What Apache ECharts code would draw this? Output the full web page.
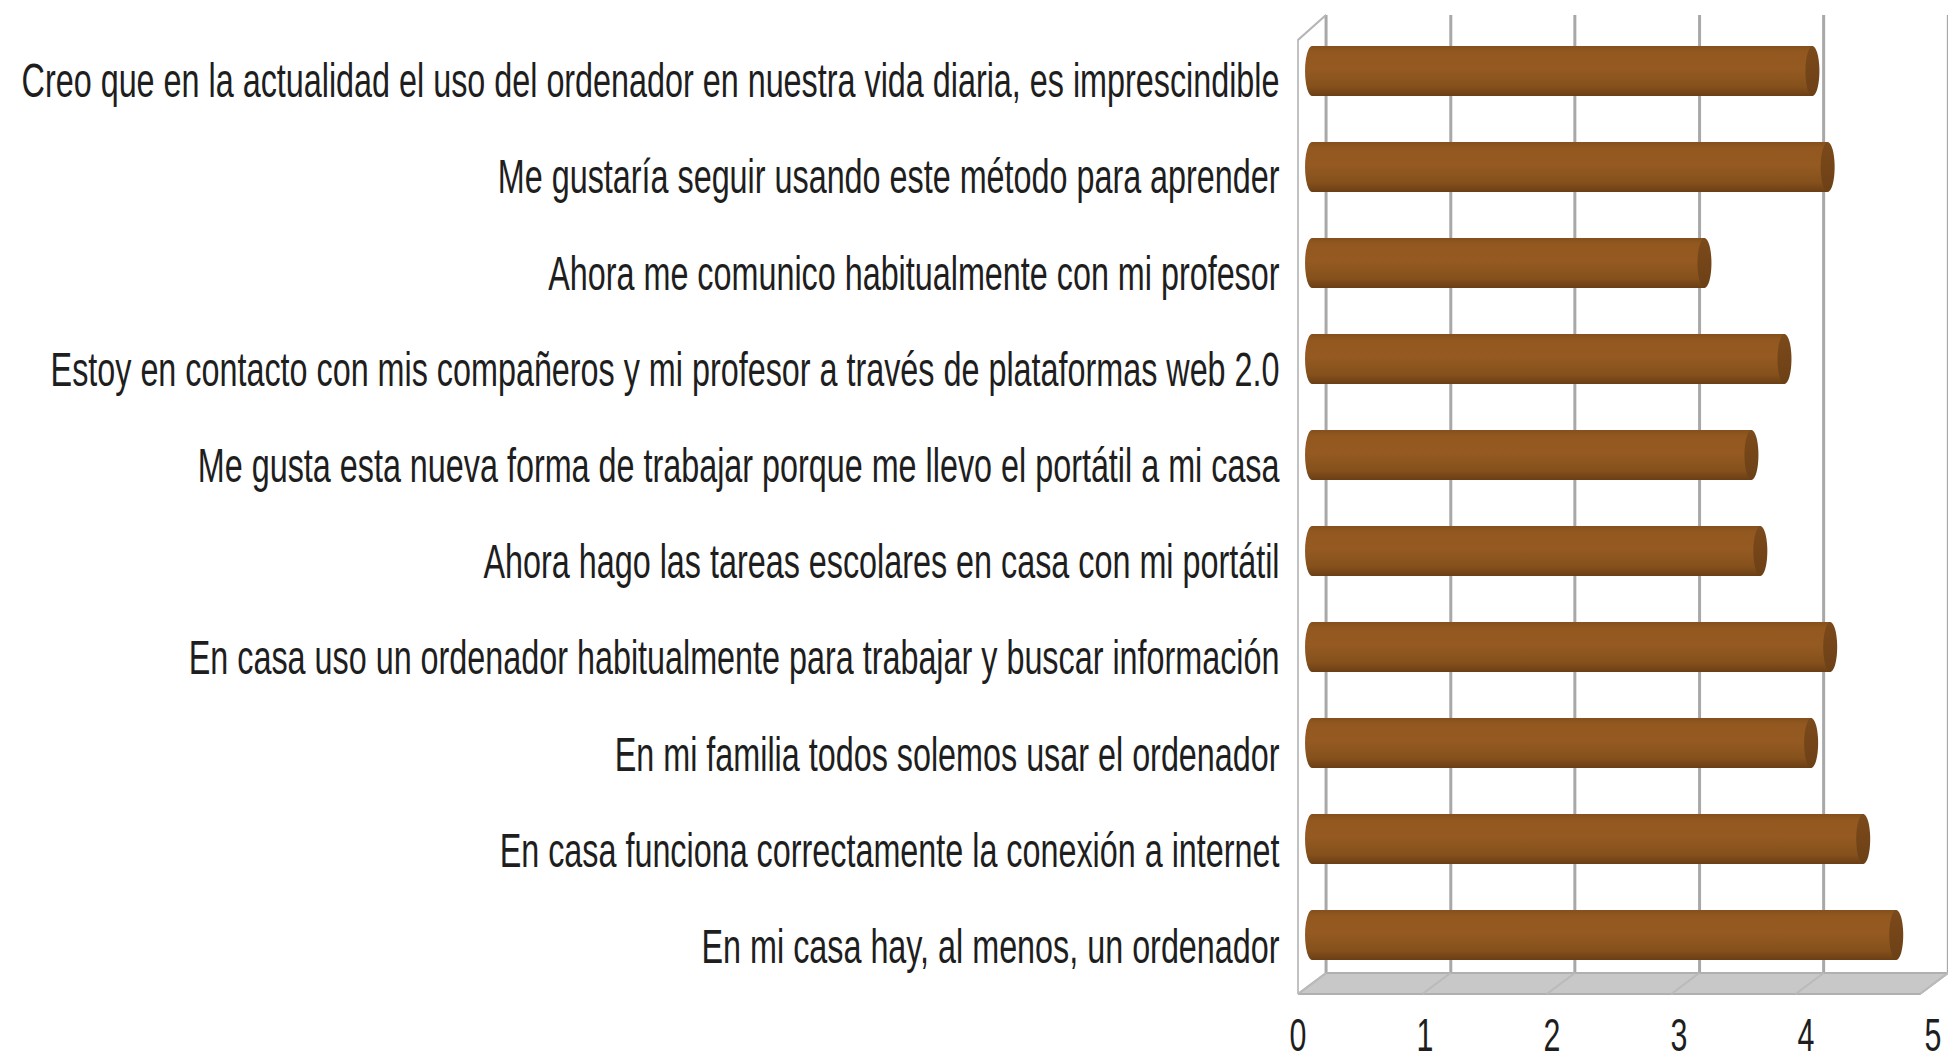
<!DOCTYPE html>
<html>
<head>
<meta charset="utf-8">
<script src="https://cdn.jsdelivr.net/npm/echarts@6/dist/echarts.min.js"></script>
<style>
  html, body { margin: 0; padding: 0; overflow: hidden; background: #fff; }
  /* the whole picture is squeezed sideways, like the original */
  #chart { width: 2952px; height: 1058px; transform: scaleX(0.6599); transform-origin: 0 0; }
</style>
</head>
<body>
<div id="chart"></div>
<script>
// data, top row first
const categories = [
  "Creo que en la actualidad el uso del ordenador en nuestra vida diaria, es imprescindible",
  "Me gustaría seguir usando este método para aprender",
  "Ahora me comunico habitualmente con mi profesor",
  "Estoy en contacto con mis compañeros y mi profesor a través de plataformas web 2.0",
  "Me gusta esta nueva forma de trabajar porque me llevo el portátil a mi casa",
  "Ahora hago las tareas escolares en casa con mi portátil",
  "En casa uso un ordenador habitualmente para trabajar y buscar información",
  "En mi familia todos solemos usar el ordenador",
  "En casa funciona correctamente la conexión a internet",
  "En mi casa hay, al menos, un ordenador",
];
const scores = [3.94, 4.06, 3.09, 3.72, 3.46, 3.53, 4.08, 3.93, 4.34, 4.6];
const xTicks = [0, 1, 2, 3, 4, 5];

const S = 1948 / 2952;
const px = (v) => v / S;

const depthX = px(-28);
const depthY = 21;
const font = "'Liberation Sans', Arial, sans-serif";

const chart = echarts.init(document.getElementById("chart"), null, {
  renderer: "svg",
});

const bodyGrad = {
  type: "linear", x: 0, y: 0, x2: 0, y2: 1,
  colorStops: [
    { offset: 0, color: "#83501d" },
    { offset: 0.12, color: "#93581f" },
    { offset: 0.45, color: "#955a22" },
    { offset: 0.8, color: "#86511c" },
    { offset: 1, color: "#6a3f15" },
  ],
};
const capGrad = {
  type: "linear", x: 0, y: 0, x2: 0, y2: 1,
  colorStops: [
    { offset: 0, color: "#7c4a1b" },
    { offset: 1, color: "#6c4016" },
  ],
};

// floor + left wall
function renderRoom(params, api) {
  const cs = params.coordSys;
  const x0 = cs.x;
  const x1 = cs.x + cs.width;
  const yt = cs.y;
  const yb = cs.y + cs.height;
  const children = [
    {
      type: "polygon",
      shape: { points: [[x0, yb], [x1, yb], [x1 + depthX, yb + depthY], [x0 + depthX, yb + depthY]] },
      style: { fill: "#c8c8c8", stroke: "#b0b0b0", lineWidth: 2 },
    },
    {
      type: "polyline",
      shape: { points: [[x0, yt], [x0 + depthX, yt + depthY + 4], [x0 + depthX, yb + depthY]] },
      style: { fill: null, stroke: "#b5b5b5", lineWidth: 2.5 },
    },
  ];
  xTicks.forEach((t) => {
    const x = api.coord([t, 0])[0];
    children.push({
      type: "line",
      shape: { x1: x, y1: yb, x2: x + depthX, y2: yb + depthY },
      style: { stroke: "#bababa", lineWidth: 2 },
    });
  });
  return { type: "group", children };
}

// one cylinder per row
function renderCylinder(params, api) {
  const v = api.value(0);
  const cat = api.value(1);
  const start = api.coord([0, cat]);
  const end = api.coord([v, cat]);
  const h = api.size([0, 1])[1] * 0.52;
  const cy = start[1];
  const sx = px(7) / (h / 2);
  return {
    type: "group",
    children: [
      {
        type: "circle",
        shape: { cx: 0, cy: 0, r: h / 2 },
        x: start[0], y: cy, scaleX: sx,
        style: { fill: bodyGrad },
      },
      {
        type: "rect",
        shape: { x: start[0], y: cy - h / 2, width: end[0] - start[0], height: h },
        style: { fill: bodyGrad },
      },
      {
        type: "circle",
        shape: { cx: 0, cy: 0, r: h / 2 },
        x: end[0], y: cy, scaleX: sx,
        style: { fill: capGrad },
      },
    ],
  };
}

const hidden = { show: false };

const option = {
  animation: false,
  backgroundColor: "#fff",
  grid: [
    { left: px(1326), top: 15, width: px(635), height: 958 },
    { left: px(1312), top: 23, width: px(635), height: 960 },
    { left: px(1298), top: 32, width: px(635), height: 962 },
  ],
  xAxis: [
    {
      gridIndex: 0, type: "value", min: 0, max: 5, interval: 1,
      axisLine: hidden, axisTick: hidden, axisLabel: hidden,
      splitLine: { show: true, lineStyle: { color: "#a8a8a8", width: px(3) } },
    },
    {
      gridIndex: 1, type: "value", min: 0, max: 5, interval: 1,
      axisLine: hidden, axisTick: hidden, axisLabel: hidden, splitLine: hidden,
    },
    {
      gridIndex: 2, type: "value", min: 0, max: 5, interval: 1,
      axisLine: hidden, axisTick: hidden, splitLine: hidden,
      axisLabel: { fontSize: 46, lineHeight: 34, fontFamily: font, color: "#1e1e1e", margin: 24 },
    },
  ],
  yAxis: [
    { gridIndex: 0, type: "category", data: categories, inverse: true, show: false },
    { gridIndex: 1, type: "category", data: categories, inverse: true, show: false },
    {
      gridIndex: 2, type: "category", data: categories, inverse: true,
      axisLine: hidden, axisTick: hidden, splitLine: hidden,
      axisLabel: { fontSize: 49, fontFamily: font, color: "#1e1e1e", margin: px(18.5) },
    },
  ],
  series: [
    {
      type: "custom",
      xAxisIndex: 0, yAxisIndex: 0,
      renderItem: renderRoom,
      data: [[0, 0]],
      silent: true,
      z: 1,
    },
    {
      type: "custom",
      xAxisIndex: 1, yAxisIndex: 1,
      renderItem: renderCylinder,
      data: scores.map((v, i) => [v, i]),
      z: 3,
    },
  ],
};

chart.setOption(option);
</script>
</body>
</html>
